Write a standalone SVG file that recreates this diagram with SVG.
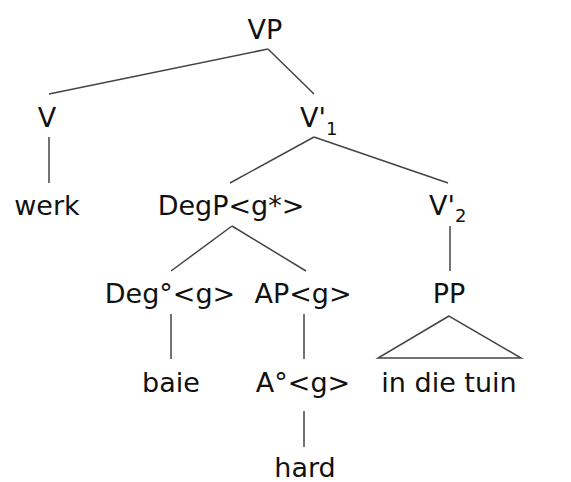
<svg xmlns="http://www.w3.org/2000/svg" width="571" height="482" viewBox="0 0 571 482">
<style>
text{font-family:"DejaVu Sans","Liberation Sans",sans-serif;font-size:27px;fill:#111;text-anchor:middle}
.sub{font-size:18px;text-anchor:start}
.lab{text-anchor:start}
line,polygon{stroke:#444;stroke-width:1.5;fill:none}
</style>
<rect width="571" height="482" fill="#fff"/>
<g id="connectors">
<line x1="268" y1="49" x2="49" y2="94"/>
<line x1="268" y1="49" x2="314" y2="94"/>
<line x1="49" y1="137" x2="49" y2="183"/>
<line x1="314" y1="137" x2="230" y2="183"/>
<line x1="314" y1="137" x2="448" y2="183"/>
<line x1="232" y1="226" x2="171" y2="271"/>
<line x1="232" y1="226" x2="306" y2="271"/>
<line x1="450" y1="226" x2="450" y2="271"/>
<line x1="171" y1="314" x2="171" y2="359"/>
<line x1="304" y1="314" x2="304" y2="359"/>
<polygon points="449,316 378,358 521,358"/>
<line x1="304" y1="411" x2="304" y2="447"/>
</g>
<g id="VP"><text x="265" y="39">VP</text></g>
<g id="V"><text x="47" y="127">V</text></g>
<g id="V1"><text class="lab" x="300" y="127">V'</text><text class="sub" x="326" y="135">1</text></g>
<g id="werk"><text x="47" y="215">werk</text></g>
<g id="DegP"><text x="231" y="215">DegP&lt;g*&gt;</text></g>
<g id="V2"><text class="lab" x="429" y="215">V'</text><text class="sub" x="455" y="222">2</text></g>
<g id="Deg"><text x="170" y="303">Deg°&lt;g&gt;</text></g>
<g id="AP"><text x="303" y="303">AP&lt;g&gt;</text></g>
<g id="PP"><text x="449" y="303">PP</text></g>
<g id="baie"><text x="171" y="392">baie</text></g>
<g id="A"><text x="303" y="392">A°&lt;g&gt;</text></g>
<g id="intuin"><text x="449" y="392">in die tuin</text></g>
<g id="hard"><text x="305" y="477">hard</text></g>
</svg>
